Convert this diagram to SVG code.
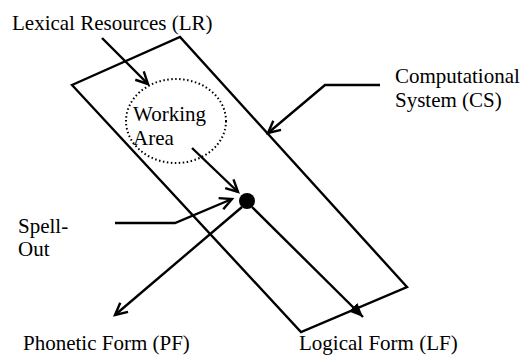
<svg xmlns="http://www.w3.org/2000/svg" width="524" height="355" viewBox="0 0 524 355">
<style>
.t{font-family:"Liberation Serif","Times New Roman",serif;font-size:21px;fill:#000}
.ln{fill:none;stroke:#000;stroke-width:2.4;stroke-linejoin:miter}
</style>
<defs>
<marker id="open" markerUnits="userSpaceOnUse" markerWidth="16" markerHeight="16" refX="13" refY="7" orient="auto" viewBox="0 0 16 14">
<path d="M1,1 L13,7 L1,13" fill="none" stroke="#000" stroke-width="2.4"/>
</marker>
<marker id="solid" markerUnits="userSpaceOnUse" markerWidth="16" markerHeight="14" refX="14" refY="6" orient="auto" viewBox="0 0 16 12">
<path d="M0,0 L14,6 L0,12 Z" fill="#000"/>
</marker>
</defs>
<rect width="524" height="355" fill="#fff"/>
<g id="cs">
<polygon class="ln" points="72,85 180,37 407,287 301,332"/>
</g>
<g id="working-area">
<ellipse cx="176" cy="121" rx="50" ry="42" fill="none" stroke="#000" stroke-width="2" stroke-dasharray="1.5 2.5"/>
<text class="t" x="133" y="121">Working</text>
<text class="t" x="133" y="145">Area</text>
</g>
<g id="spell-out-point">
<circle cx="247" cy="201" r="8" fill="#000"/>
</g>
<g id="lr"><text class="t" x="12" y="30">Lexical Resources (LR)</text></g>
<g id="cs-label"><text class="t" x="395" y="83">Computational</text><text class="t" x="395" y="107">System (CS)</text></g>
<g id="spell-out"><text class="t" x="18" y="233">Spell-</text><text class="t" x="18" y="256">Out</text></g>
<g id="pf"><text class="t" x="23" y="350">Phonetic Form (PF)</text></g>
<g id="lf"><text class="t" x="299" y="350">Logical Form (LF)</text></g>
<g id="connectors">
<line class="ln" x1="102" y1="38" x2="148" y2="84" marker-end="url(#open)"/>
<polyline class="ln" points="380,85 325,85 268,133" marker-end="url(#open)"/>
<polyline class="ln" points="115,223 175,223 232,199" marker-end="url(#open)"/>
<line class="ln" x1="192" y1="148" x2="238" y2="192" marker-end="url(#open)"/>
<line class="ln" x1="242" y1="207" x2="115" y2="315" marker-end="url(#open)"/>
<line class="ln" x1="252" y1="207" x2="363" y2="317" marker-end="url(#solid)"/>
</g>
</svg>
